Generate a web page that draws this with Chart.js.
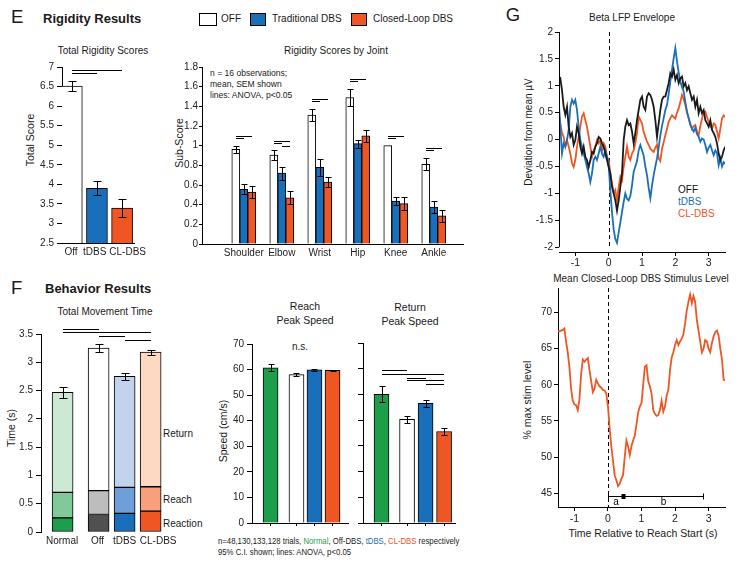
<!DOCTYPE html>
<html><head><meta charset="utf-8">
<script src="https://cdn.jsdelivr.net/npm/chart.js@4.4.1/dist/chart.umd.min.js"></script>
<style>
html,body{margin:0;padding:0;background:#fff}
body{width:738px;height:562px;position:relative;overflow:hidden;font-family:Arial,"Liberation Sans",Helvetica,sans-serif;color:#1a1a1a}
canvas{position:absolute}
.c,.l,.v,.s{position:absolute;white-space:nowrap;line-height:1}
.c{transform:translate(-50%,-50%)}
.l{transform:translateY(-50%)}
.s{transform:translateY(-50%) scaleX(0.86);transform-origin:0 50%}
.v{transform:translate(-50%,-50%) rotate(-90deg)}
.box{position:absolute;border:1px solid #000;box-sizing:border-box}
</style></head><body>
<div class="l" style="left:11px;top:17px;font-size:18.5px">E</div>
<div class="l" style="left:43px;top:18px;font-size:13px;font-weight:bold">Rigidity Results</div>
<div class="box" style="left:199px;top:13px;width:18px;height:13px;background:#fff"></div>
<div class="l" style="left:221px;top:19px;font-size:10px">OFF</div>
<div class="box" style="left:250px;top:13px;width:16px;height:13px;background:#1a6fba"></div>
<div class="l" style="left:272px;top:19px;font-size:10px">Traditional DBS</div>
<div class="box" style="left:351px;top:13px;width:16px;height:13px;background:#ef5623"></div>
<div class="l" style="left:373px;top:19px;font-size:10px">Closed-Loop DBS</div>
<div class="c" style="left:103px;top:51px;font-size:10px">Total Rigidity Scores</div>
<div class="v" style="left:30px;top:140px;font-size:10.5px">Total Score</div>
<div class="c" style="left:336px;top:51px;font-size:10px">Rigidity Scores by Joint</div>
<div class="v" style="left:179px;top:143px;font-size:10.5px">Sub-Score</div>
<div class="s" style="left:210px;top:73px;font-size:9.5px;transform:translateY(-50%) scaleX(0.9)">n = 16 observations;</div>
<div class="s" style="left:210px;top:84px;font-size:9.5px;transform:translateY(-50%) scaleX(0.9)">mean, SEM shown</div>
<div class="s" style="left:210px;top:95px;font-size:9.5px;transform:translateY(-50%) scaleX(0.9)">lines: ANOVA, p&lt;0.05</div>

<div class="c" style="left:513px;top:15px;font-size:18.5px">G</div>
<div class="c" style="left:632px;top:18px;font-size:10px">Beta LFP Envelope</div>
<div class="v" style="left:529px;top:132px;font-size:10px">Deviation from mean µV</div>
<div class="l" style="left:678px;top:190px;font-size:10px;color:#111">OFF</div>
<div class="l" style="left:678px;top:202px;font-size:10px;color:#1a6fba">tDBS</div>
<div class="l" style="left:678px;top:214px;font-size:10px;color:#ef5623">CL-DBS</div>

<div class="c" style="left:641px;top:279px;font-size:10px">Mean Closed-Loop DBS Stimulus Level</div>
<div class="v" style="left:527px;top:400px;font-size:10.5px">% max stim level</div>
<div class="c" style="left:643px;top:533px;font-size:10.5px">Time Relative to Reach Start (s)</div>

<div class="l" style="left:11px;top:288px;font-size:18.5px">F</div>
<div class="l" style="left:45px;top:288px;font-size:13px;font-weight:bold">Behavior Results</div>
<div class="c" style="left:105px;top:312px;font-size:10px">Total Movement Time</div>
<div class="v" style="left:11px;top:428px;font-size:10.5px">Time (s)</div>
<div class="l" style="left:163px;top:434px;font-size:10px">Return</div>
<div class="l" style="left:163px;top:500px;font-size:10px">Reach</div>
<div class="l" style="left:163px;top:524px;font-size:10px">Reaction</div>

<div class="c" style="left:305px;top:306px;font-size:10.5px">Reach</div>
<div class="c" style="left:305px;top:320px;font-size:10.5px">Peak Speed</div>
<div class="c" style="left:410px;top:307px;font-size:10.5px">Return</div>
<div class="c" style="left:410px;top:321px;font-size:10.5px">Peak Speed</div>
<div class="c" style="left:300px;top:347px;font-size:10px">n.s.</div>
<div class="v" style="left:223px;top:431px;font-size:10.5px">Speed (cm/s)</div>
<div class="s" style="left:218px;top:541px;font-size:9px">n=48,130,133,128 trials, <span style="color:#1e9e4b">Normal</span>, Off-DBS, <span style="color:#1a6fba">tDBS</span>, <span style="color:#ef5623">CL-DBS</span> respectively</div>
<div class="s" style="left:218px;top:552px;font-size:9px">95% C.I. shown; lines: ANOVA, p&lt;0.05</div>

<script>
// ---------- DATA ----------
const rigTotalCats = ['Off', 'tDBS', 'CL-DBS'];
const rigTotalVals = [6.51, 3.90, 3.39];
const rigTotalSem = [0.125, 0.18, 0.23];
const rigTotalSig = [[0, 2, 6.92], [0, 1, 6.85]]; // fromBar, toBar, level

const jointCats = ['Shoulder', 'Elbow', 'Wrist', 'Hip', 'Knee', 'Ankle'];
const jointOff = [0.963, 0.905, 1.31, 1.49, 1.0, 0.81];
const jointOffSem = [0.034, 0.05, 0.06, 0.09, 0, 0.06];
const jointTdbs = [0.557, 0.72, 0.78, 1.02, 0.436, 0.375];
const jointTdbsSem = [0.05, 0.065, 0.085, 0.04, 0.04, 0.06];
const jointCl = [0.527, 0.47, 0.63, 1.10, 0.41, 0.287];
const jointClSem = [0.06, 0.067, 0.05, 0.06, 0.066, 0.06];
const jointSig = [[0,0,2,1.098],[0,0,1,1.078],[1,0,2,1.05],[1,0,1,1.03],[1,1,2,1.0],[2,0,2,1.473],[2,0,1,1.455],
  [3,0,2,1.676],[3,0,1,1.658],[4,0,2,1.098],[4,0,1,1.078],[5,0,2,0.976],[5,0,1,0.958]]; // group, fromSeries, toSeries, level

const moveCats = ['Normal', 'Off', 'tDBS', 'CL-DBS'];
const moveReaction = [0.25, 0.31, 0.33, 0.37];
const moveReach = [0.45, 0.42, 0.46, 0.43];
const moveReturn = [1.77, 2.52, 1.96, 2.38];
const moveTotalCI = [0.1, 0.075, 0.06, 0.045];
const moveSig = [[0, 1, 3.59], [0, 3, 3.54], [1, 2, 3.46], [2, 3, 3.39]];

const reachSpeed = [60.7, 58.0, 59.9, 59.7];
const reachCI = [1.3, 0.65, 0.5, 0.3];
const returnSpeed = [50.0, 40.3, 46.5, 35.6];
const returnCI = [3.1, 1.3, 1.2, 1.2];
const returnSig = [[0, 1, 59.4], [0, 3, 58.1], [1, 2, 56.4], [1, 3, 55.5], [2, 3, 54.0]];

const timeS = [-1.5,-1.45,-1.4,-1.35,-1.3,-1.25,-1.2,-1.15,-1.1,-1.05,
  -1,-0.95,-0.9,-0.85,-0.8,-0.75,-0.7,-0.65,-0.6,-0.55,
  -0.5,-0.45,-0.4,-0.35,-0.3,-0.25,-0.2,-0.15,-0.1,-0.05,
  0,0.05,0.1,0.15,0.2,0.25,0.3,0.35,0.4,0.45,
  0.5,0.55,0.6,0.65,0.7,0.75,0.8,0.85,0.9,0.95,
  1,1.05,1.1,1.15,1.2,1.25,1.3,1.35,1.4,1.45,
  1.5,1.55,1.6,1.65,1.7,1.75,1.8,1.85,1.9,1.95,
  2,2.05,2.1,2.15,2.2,2.25,2.3,2.35,2.4,2.45,
  2.5,2.55,2.6,2.65,2.7,2.75,2.8,2.85,2.9,2.95,
  3,3.05,3.1,3.15,3.2,3.25,3.3,3.35,3.4,3.45,
  3.5];
const betaOff = [1.11,1.14,0.92,0.61,0.46,0.61,0.24,0.05,0.12,-0.10,
  -0.01,0.24,0.12,-0.13,-0.26,-0.13,-0.32,-0.38,-0.51,-0.38,
  -0.23,-0.26,-0.13,-0.07,0.05,0.02,-0.07,-0.13,-0.26,-0.38,
  -0.51,-0.63,-0.88,-1.0,-1.13,-1.32,-1.13,-0.88,-0.63,-0.01,
  0.24,0.36,0.27,0.30,0.15,-0.07,0.12,0.36,0.55,0.74,
  0.80,0.61,0.55,0.80,0.86,0.83,0.74,0.61,0.36,0.05,
  0.30,0.55,0.74,0.80,0.80,0.92,1.05,1.23,1.17,1.30,
  1.11,1.20,1.05,1.14,1.17,0.99,1.05,0.92,0.99,0.86,
  0.74,0.80,0.61,0.74,0.49,0.61,0.49,0.55,0.36,0.30,
  0.24,0.36,0.18,0.12,0.05,-0.07,-0.26,-0.38,-0.32,-0.20,
  -0.13];
const betaTdbs = [0.74,0.24,-0.26,-0.07,-0.13,-0.01,0.18,0.61,0.74,0.67,
  0.74,0.55,0.24,-0.01,-0.13,-0.26,-0.38,-0.51,-0.63,-0.79,
  -0.63,-0.38,-0.32,-0.38,-0.26,-0.13,-0.26,-0.32,-0.20,-0.32,
  -0.48,-0.95,-1.35,-1.67,-1.85,-1.92,-1.73,-1.54,-1.35,-1.16,
  -1.0,-1.1,-1.13,-1.05,-0.85,-0.6,-0.5,-0.4,-0.2,-0.1,
  -0.2,-0.3,-0.5,-0.66,-0.9,-1.09,-0.85,-0.66,-0.5,-0.35,
  -0.15,0.08,0.25,0.40,0.55,0.64,0.85,1.08,1.3,1.51,
  1.70,1.45,1.25,1.08,0.98,0.89,0.7,0.52,0.4,0.27,
  0.2,0.15,0.22,0.1,0.05,-0.04,0.02,0.0,-0.1,-0.23,
  -0.15,-0.1,-0.2,-0.29,-0.2,-0.25,-0.48,-0.35,-0.5,-0.42,
  -0.45];
const betaCl = [0.49,0.30,0.12,0.05,-0.13,-0.01,-0.13,-0.26,-0.44,-0.51,
  -0.38,-0.13,0.05,0.24,0.43,0.49,0.36,0.24,0.05,-0.13,
  -0.32,-0.20,-0.13,-0.01,-0.07,-0.01,-0.20,-0.07,-0.13,-0.32,
  -0.38,-0.63,-0.82,-1.0,-0.94,-1.13,-0.88,-0.69,-0.76,-0.51,
  -0.32,-0.13,-0.32,-0.38,-0.26,-0.20,-0.07,0.12,0.43,0.36,
  0.3,0.14,0.05,-0.04,-0.1,-0.17,-0.2,-0.23,-0.15,-0.1,
  -0.35,-0.4,-0.17,-0.05,0.08,0.2,0.33,0.4,0.45,0.42,
  0.39,0.5,0.58,0.7,0.83,0.75,0.64,0.5,0.39,0.3,
  0.2,0.25,0.27,0.15,0.08,0.25,0.39,0.5,0.52,0.42,
  0.33,0.25,0.2,0.3,0.27,0.15,0.02,0.2,0.39,0.45,
  0.42];
const stimLevel = [67.4,67.4,67.5,67.6,67.8,66.0,64.5,62.5,59.5,57.8,
  57.3,57.2,56.5,58.0,61.5,63.5,63.2,63.5,63.7,62.0,
  60.5,59.0,59.5,60.7,60.2,59.8,59.6,59.3,59.2,58.8,
  57.0,54.0,51.5,49.5,47.5,46.8,46.0,46.3,47.0,47.5,
  50.0,52.3,51.5,50.3,51.5,52.3,53.0,54.5,56.2,57.0,
  57.5,60.0,62.5,62.7,60.5,59.8,58.8,56.5,56.0,55.7,
  55.8,56.5,57.8,56.3,57.0,58.5,59.3,62.0,63.8,64.5,
  65.5,66.2,65.5,66.0,66.4,67.0,68.5,70.3,71.5,72.5,
  71.3,72.3,71.5,69.0,67.5,66.0,64.5,65.0,66.2,66.0,
  65.0,64.5,65.8,66.7,67.3,67.5,66.8,65.0,63.5,60.7,
  60.7];
const stimPhaseBounds = [0, 0.45, 2.83];
const stimPhaseLabels = ['a', 'b'];
const stimPhaseLevel = 44.6;

// ---------- STYLE ----------
const C_GREEN = '#1e9e4b', C_BLUE = '#1a6fba', C_ORANGE = '#ef5623', C_BLACK = '#1a1a1a';
Chart.defaults.font.family = 'Arial, "Liberation Sans", Helvetica, sans-serif';
Chart.defaults.font.size = 10;
Chart.defaults.color = '#222';
const fmt = v => String(+(+v).toFixed(2));

function place(box, area, cfg) {
  const cv = document.createElement('canvas');
  cv.width = box[2]; cv.height = box[3];
  cv.style.left = box[0] + 'px'; cv.style.top = box[1] + 'px';
  cv.style.width = box[2] + 'px'; cv.style.height = box[3] + 'px';
  document.body.appendChild(cv);
  const yW = area[0] - box[0], xH = box[1] + box[3] - area[3];
  Object.assign(cfg.options, {responsive: false, animation: false, devicePixelRatio: 1, maintainAspectRatio: false});
  cfg.options.layout = {padding: {top: area[1] - box[1], right: box[0] + box[2] - area[2], left: 0, bottom: 0}};
  cfg.options.scales.x.afterFit = s => { s.height = xH; };
  cfg.options.scales.y.afterFit = s => { s.width = yW; };
  cfg.options.plugins = Object.assign({legend: {display: false}, tooltip: {enabled: false}, title: {display: false}}, cfg.options.plugins || {});
  return new Chart(cv, cfg);
}
function yAxis(min, max, step, o) {
  o = o || {};
  return {
    type: 'linear', min, max, stacked: !!o.stacked,
    ticks: {display: o.noLabels ? false : true, stepSize: step, includeBounds: false, padding: o.pad == null ? 2 : o.pad, color: '#222', font: {size: 10}, callback: fmt},
    grid: {drawOnChartArea: false, drawTicks: true, tickLength: o.tl || 4, color: '#000'},
    border: {display: o.noBorder ? false : true, color: '#000', width: 1}
  };
}
// categorical positions on a linear axis; "gap" is extra space (in category widths) after the first group
function groupPos(n, gap) { const p = []; for (let i = 0; i < n; i++) p.push(i + (i > 0 ? gap : 0)); return p; }
function xCat(min, max, labels, positions, o) {
  o = o || {};
  const shift = o.labelShift || positions.map(() => 0);
  return {
    type: 'linear', min, max, offset: false,
    afterBuildTicks: s => { s.ticks = positions.map((v, i) => ({value: v + shift[i]})); },
    ticks: {autoSkip: false, maxRotation: 0, minRotation: 0, padding: o.pad || 3, color: '#222', font: {size: 10},
      callback: (v, i) => (o.noLabels ? '' : labels[i])},
    grid: o.tickMarks ? {display: true, offset: false, drawOnChartArea: false, drawTicks: true, tickLength: 3, color: '#000'} : {display: false, drawTicks: false},
    border: {display: o.noBorder ? false : true, color: '#000', width: 1}
  };
}
const errPlugin = {
  id: 'errbars',
  afterDatasetsDraw(chart) {
    const ctx = chart.ctx, ys = chart.scales.y;
    chart.data.datasets.forEach((ds, di) => {
      if (!ds.errs) return;
      const meta = chart.getDatasetMeta(di);
      meta.data.forEach((el, i) => {
        const e = ds.errs[i]; if (!e) return;
        const px = Math.abs(ys.getPixelForValue(e) - ys.getPixelForValue(0));
        const cap = ds.capW || 4;
        const x = Math.round(el.x) + 0.5, y0 = Math.round(el.y - px) + 0.5, y1 = Math.round(el.y + px) + 0.5;
        ctx.save(); ctx.strokeStyle = '#000'; ctx.lineWidth = 1; ctx.beginPath();
        ctx.moveTo(x, y0); ctx.lineTo(x, y1);
        ctx.moveTo(x - cap, y0); ctx.lineTo(x + cap, y0);
        ctx.moveTo(x - cap, y1); ctx.lineTo(x + cap, y1);
        ctx.stroke(); ctx.restore();
      });
    });
  }
};
function sigPlugin(lines) { // each: [dsA, idxA, dsB, idxB, level]
  return {id: 'sig', afterDatasetsDraw(chart) {
    const ctx = chart.ctx, ys = chart.scales.y;
    ctx.save(); ctx.strokeStyle = '#000'; ctx.lineWidth = 1;
    lines.forEach(L => {
      const a = chart.getDatasetMeta(L[0]).data[L[1]], b = chart.getDatasetMeta(L[2]).data[L[3]];
      const py = Math.round(ys.getPixelForValue(L[4])) + 0.5;
      ctx.beginPath(); ctx.moveTo(Math.round(a.x), py); ctx.lineTo(Math.round(b.x), py); ctx.stroke();
    });
    ctx.restore();
  }};
}
function zeroLine(lo, hi) {
  return {id: 'zl', beforeDatasetsDraw(chart) {
    const xs = chart.scales.x, ys = chart.scales.y, ctx = chart.ctx;
    const x = Math.round(xs.getPixelForValue(0)) + 0.5;
    ctx.save(); ctx.strokeStyle = '#000'; ctx.lineWidth = 1; ctx.setLineDash([4, 3]);
    ctx.beginPath(); ctx.moveTo(x, ys.getPixelForValue(hi)); ctx.lineTo(x, ys.getPixelForValue(lo)); ctx.stroke();
    ctx.restore();
  }};
}
function partialYAxis(lo, hi) {
  return {id: 'pya', afterDraw(chart) {
    const ys = chart.scales.y, ctx = chart.ctx, x = Math.round(chart.chartArea.left) + 0.5;
    ctx.save(); ctx.strokeStyle = '#000'; ctx.lineWidth = 1; ctx.beginPath();
    ctx.moveTo(x, ys.getPixelForValue(hi)); ctx.lineTo(x, ys.getPixelForValue(lo)); ctx.stroke(); ctx.restore();
  }};
}
function phaseBracket(bounds, labels, level) {
  return {id: 'pb', afterDatasetsDraw(chart) {
    const xs = chart.scales.x, ys = chart.scales.y, ctx = chart.ctx;
    const py = Math.round(ys.getPixelForValue(level)) + 0.5;
    const px = bounds.map(b => Math.round(xs.getPixelForValue(b)) + 0.5);
    ctx.save(); ctx.strokeStyle = '#000'; ctx.fillStyle = '#000'; ctx.lineWidth = 1;
    ctx.beginPath(); ctx.moveTo(px[0], py); ctx.lineTo(px[px.length - 1], py);
    [px[0], px[px.length - 1]].forEach(p => { ctx.moveTo(p, py - 3); ctx.lineTo(p, py + 3); });
    ctx.stroke();
    for (let i = 1; i < px.length - 1; i++) ctx.fillRect(px[i] - 2, py - 2.5, 4, 5);
    ctx.font = '10px Arial, "Liberation Sans", sans-serif'; ctx.textAlign = 'center'; ctx.textBaseline = 'top';
    labels.forEach((t, i) => ctx.fillText(t, (px[i] + px[i + 1]) / 2, py + 1));
    ctx.restore();
  }};
}
const pts = (arr, pos) => arr.map((v, i) => ({x: pos[i], y: v}));
const tpts = arr => arr.map((v, i) => ({x: timeS[i], y: v}));

// ---------- E: total rigidity ----------
const rigPos = groupPos(rigTotalCats.length, 0);
place([20, 55, 130, 205], [62, 67, 139, 243], {
  type: 'bar',
  data: {datasets: [{data: pts(rigTotalVals, rigPos), backgroundColor: ['#ffffff', C_BLUE, C_ORANGE], borderColor: '#000', borderWidth: 1, borderSkipped: false, barThickness: 21, errs: rigTotalSem, capW: 4}]},
  options: {scales: {x: xCat(-0.39, 2.49, rigTotalCats, rigPos, {labelShift: [-0.03, -0.09, 0.22]}), y: yAxis(2.5, 7, 0.5, {tl: 5, pad: 3})}},
  plugins: [errPlugin, sigPlugin(rigTotalSig.map(s => [0, s[0], 0, s[1], s[2]]))]
});

// ---------- E: joints ----------
const jointPos = groupPos(jointCats.length, 0);
place([150, 55, 320, 205], [202, 67, 463, 244], {
  type: 'bar',
  data: {datasets: [
    {data: pts(jointOff, jointPos), backgroundColor: '#ffffff', borderColor: '#000', borderWidth: 1, barThickness: 8, errs: jointOffSem, capW: 3},
    {data: pts(jointTdbs, jointPos), backgroundColor: C_BLUE, borderColor: '#000', borderWidth: 1, barThickness: 8, errs: jointTdbsSem, capW: 3},
    {data: pts(jointCl, jointPos), backgroundColor: C_ORANGE, borderColor: '#000', borderWidth: 1, barThickness: 8, errs: jointClSem, capW: 3}
  ]},
  options: {scales: {x: xCat(-1.1, 5.77, jointCats, jointPos), y: yAxis(0, 1.8, 0.2, {tl: 3, pad: 1})}},
  plugins: [errPlugin, sigPlugin(jointSig.map(s => [s[1], s[0], s[2], s[0], s[3]]))]
});

// ---------- F: total movement time ----------
const movePos = groupPos(moveCats.length, 0.385);
place([0, 320, 200, 230], [41, 334, 170, 532], {
  type: 'bar',
  data: {datasets: [
    {data: pts(moveReaction, movePos), backgroundColor: [C_GREEN, '#505050', C_BLUE, C_ORANGE], borderColor: '#000', borderWidth: 1, borderSkipped: false, barThickness: 21},
    {data: pts(moveReach, movePos), backgroundColor: ['#7fca98', '#bdbdbd', '#6e9fd8', '#f7a07c'], borderColor: '#000', borderWidth: 1, borderSkipped: false, barThickness: 21},
    {data: pts(moveReturn, movePos), backgroundColor: ['#cce9d4', '#ffffff', '#c2d3ee', '#fdd8c2'], borderColor: '#000', borderWidth: 1, borderSkipped: false, barThickness: 21, errs: moveTotalCI, capW: 4}
  ]},
  options: {scales: {
    x: Object.assign(xCat(-0.83, 4.13, moveCats, movePos, {noBorder: true, labelShift: [-0.02, -0.04, 0.0, 0.29]}), {stacked: true}),
    y: yAxis(0, 3.5, 0.5, {stacked: true, tl: 5, pad: 3})}},
  plugins: [errPlugin, sigPlugin(moveSig.map(s => [2, s[0], 2, s[1], s[2]]))]
});

// ---------- F: reach peak speed ----------
const reachPos = groupPos(moveCats.length, 0.44);
place([215, 335, 140, 200], [252, 343, 348, 523], {
  type: 'bar',
  data: {datasets: [{data: pts(reachSpeed, reachPos), backgroundColor: [C_GREEN, '#ffffff', C_BLUE, C_ORANGE], borderColor: '#000', borderWidth: 1, barThickness: 15, errs: reachCI, capW: 3}]},
  options: {scales: {x: xCat(-1.03, 4.3, moveCats, reachPos, {tickMarks: true, noLabels: true}), y: yAxis(0, 70, 10, {tl: 5, pad: 3})}},
  plugins: [errPlugin]
});

// ---------- F: return peak speed ----------
const returnPos = groupPos(moveCats.length, 0.38);
place([355, 335, 110, 200], [363, 343, 455, 523], {
  type: 'bar',
  data: {datasets: [{data: pts(returnSpeed, returnPos), backgroundColor: [C_GREEN, '#ffffff', C_BLUE, C_ORANGE], borderColor: '#000', borderWidth: 1, barThickness: 15, errs: returnCI, capW: 3}]},
  options: {scales: {x: xCat(-1.0, 3.97, moveCats, returnPos, {tickMarks: true, noLabels: true}), y: yAxis(0, 70, 10, {noLabels: true, tl: 5})}},
  plugins: [errPlugin, sigPlugin(returnSig.map(s => [0, s[0], 0, s[1], s[2]]))]
});

// ---------- G: beta envelope ----------
const gTopX = () => ({type: 'linear', min: -1.49, max: 3.49,
  ticks: {stepSize: 1, includeBounds: false, padding: 1, color: '#222', font: {size: 10.5}, maxRotation: 0, callback: fmt},
  grid: {drawOnChartArea: false, drawTicks: true, tickLength: 4, color: '#000'}, border: {display: true, color: '#000'}});
const lineDs = (arr, col) => ({data: tpts(arr), borderColor: col, borderWidth: 1.8, pointRadius: 0, tension: 0, fill: false});
place([530, 22, 208, 250], [559, 32, 725, 252], {
  type: 'line',
  data: {datasets: [lineDs(betaOff, C_BLACK), lineDs(betaTdbs, C_BLUE), lineDs(betaCl, C_ORANGE)]},
  options: {scales: {x: gTopX(), y: yAxis(-2.09, 2, 0.5, {noBorder: true})}},
  plugins: [zeroLine(-2, 2), partialYAxis(-2, 2)]
});

// ---------- G: stim level ----------
const gBotX = gTopX(); gBotX.ticks.padding = 2;
place([530, 280, 208, 245], [558, 287, 725, 507], {
  type: 'line',
  data: {datasets: [lineDs(stimLevel, C_ORANGE)]},
  options: {scales: {x: gBotX, y: yAxis(43.1, 73.4, 5)}},
  plugins: [zeroLine(43.1, 73.4), phaseBracket(stimPhaseBounds, stimPhaseLabels, stimPhaseLevel)]
});
</script>
</body></html>
